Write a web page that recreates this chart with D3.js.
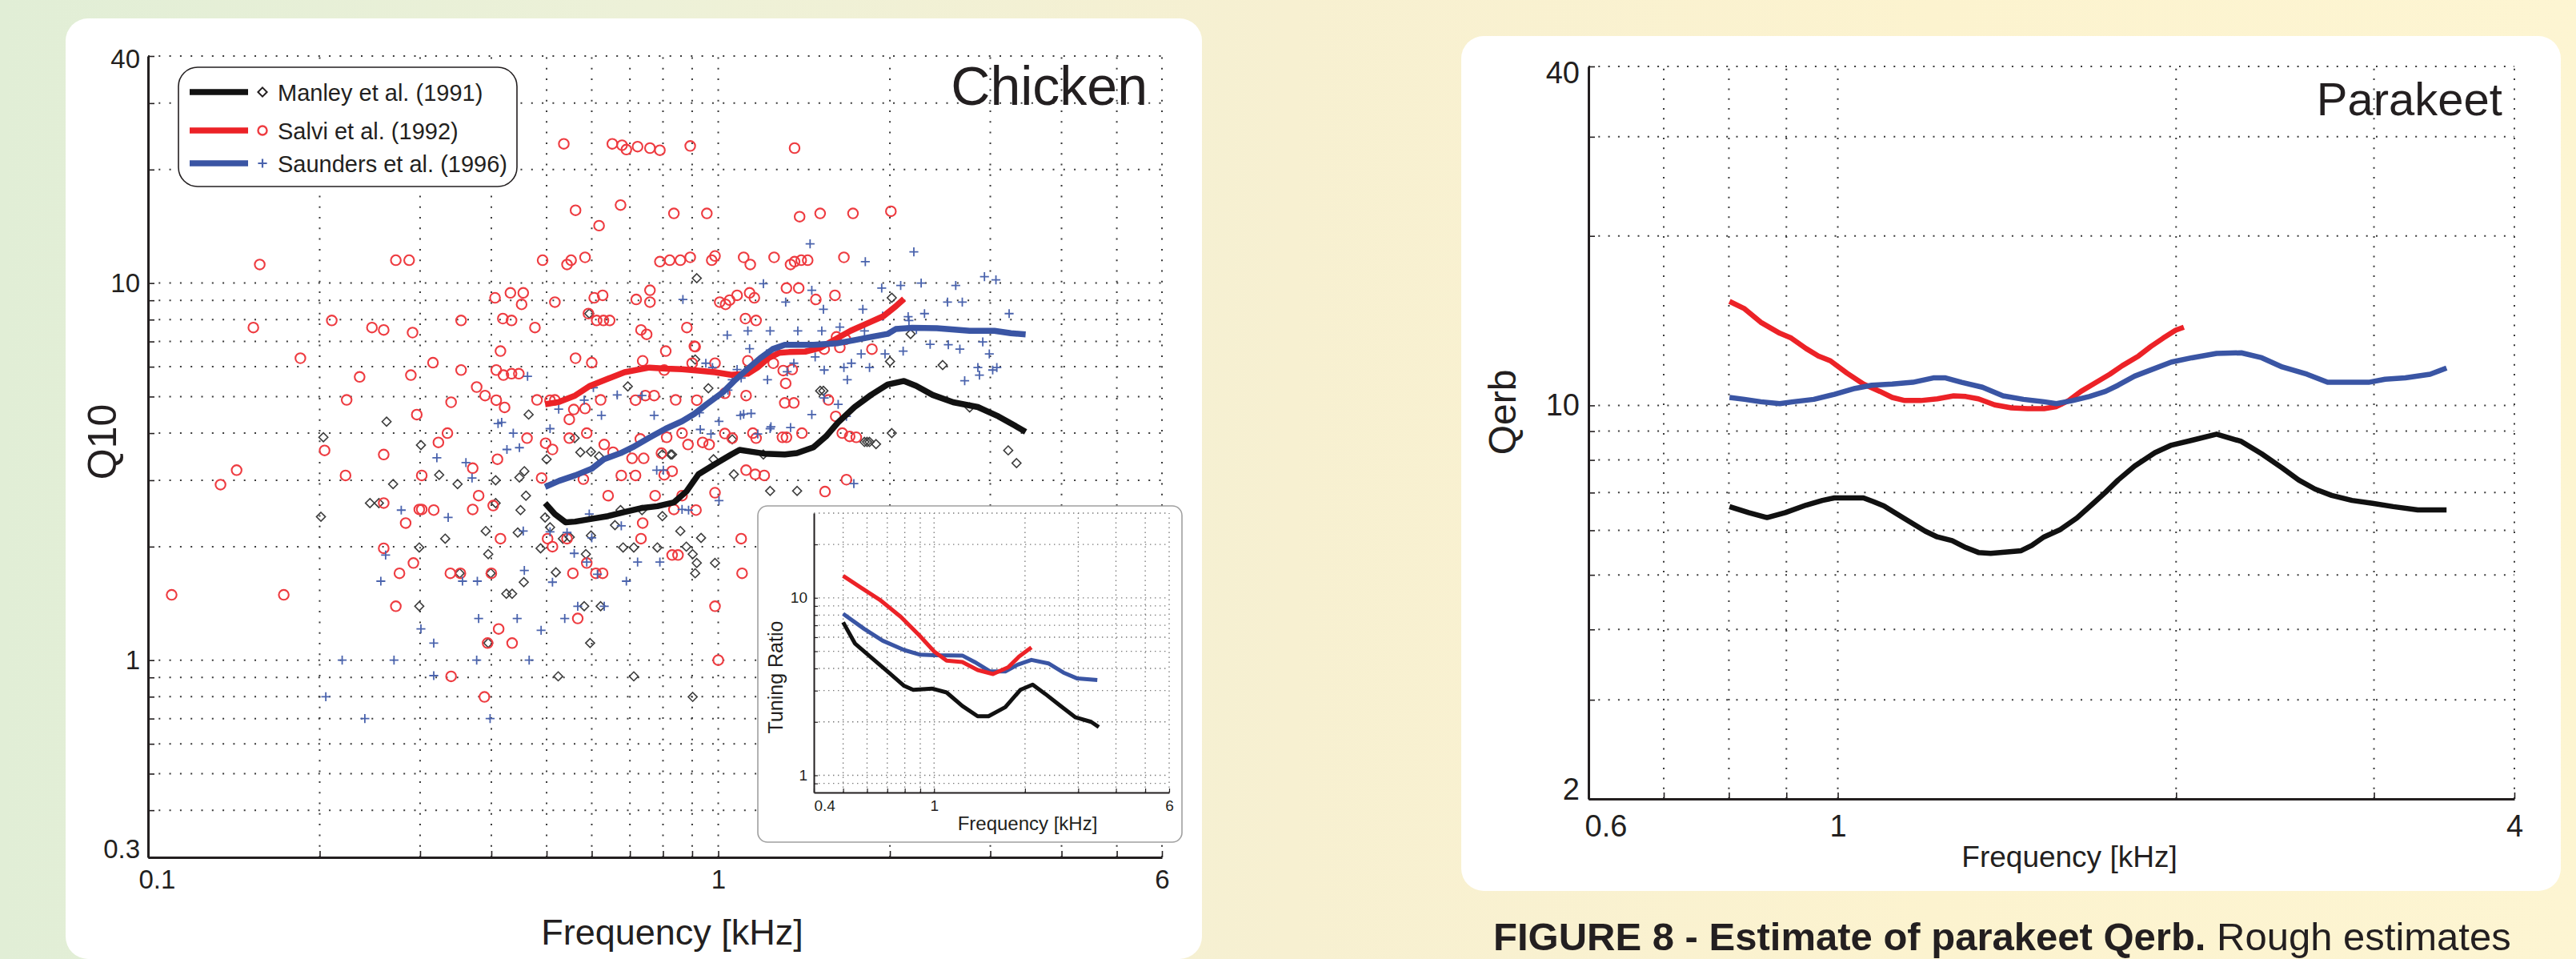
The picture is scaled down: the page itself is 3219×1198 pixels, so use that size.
<!DOCTYPE html>
<html>
<head>
<meta charset="utf-8">
<script src="https://cdn.jsdelivr.net/npm/d3@7"></script>
<style>
  html, body { margin: 0; padding: 0; }
  body { width: 3219px; height: 1198px; overflow: hidden; }
  svg { display: block; font-family: "Liberation Sans", Arial, sans-serif; }
</style>
</head>
<body>
<script>
const width = 3219;
const height = 1198;

// ---------- Chicken: smoothed Q10 curves [kHz, Q10]
const manleyQ10 = [[0.497,2.61],[0.517,2.44],[0.540,2.32],[0.561,2.33],[0.600,2.37],[0.641,2.41],[0.685,2.47],[0.732,2.53],[0.782,2.56],[0.836,2.62],[0.879,2.80],[0.923,3.11],[0.987,3.31],[1.054,3.51],[1.090,3.61],[1.146,3.57],[1.204,3.53],[1.308,3.51],[1.374,3.54],[1.469,3.67],[1.545,3.92],[1.622,4.27],[1.734,4.69],[1.853,5.05],[1.981,5.38],[2.117,5.50],[2.223,5.34],[2.377,5.05],[2.582,4.83],[2.853,4.69],[3.10,4.43],[3.31,4.19],[3.46,4.03]];
const salviQ10 = [[0.497,4.77],[0.526,4.84],[0.561,5.03],[0.596,5.34],[0.641,5.58],[0.685,5.80],[0.757,5.97],[0.809,5.93],[0.864,5.91],[0.923,5.86],[0.987,5.80],[1.054,5.71],[1.127,5.75],[1.172,5.97],[1.224,6.32],[1.278,6.53],[1.330,6.56],[1.421,6.58],[1.509,6.73],[1.596,7.06],[1.706,7.47],[1.823,7.81],[1.948,8.17],[2.047,8.67],[2.117,9.08]];
const saundersQ10 = [[0.497,2.88],[0.526,2.99],[0.561,3.09],[0.600,3.22],[0.630,3.41],[0.674,3.54],[0.708,3.67],[0.757,3.89],[0.809,4.11],[0.864,4.30],[0.908,4.50],[0.954,4.77],[1.020,5.14],[1.072,5.54],[1.127,5.93],[1.184,6.32],[1.245,6.68],[1.308,6.86],[1.469,6.86],[1.622,6.93],[1.734,7.06],[1.853,7.20],[1.981,7.33],[2.047,7.55],[2.188,7.61],[2.417,7.59],[2.76,7.47],[3.05,7.47],[3.26,7.36],[3.46,7.31]];

// ---------- Chicken: individual fibres [kHz, Q10]
const manleyPoints = [[0.917,10.3],[0.594,8.30],[2.015,9.14],[2.174,7.33],[2.475,6.06],[2.760,4.68],[3.225,3.60],[3.335,3.33],[2.001,6.20],[1.509,5.18],[2.015,4.00],[1.891,3.74],[1.805,3.79],[1.842,3.79],[1.233,2.81],[1.375,2.81],[0.961,5.26],[0.911,6.27],[0.694,5.32],[0.465,4.48],[0.262,4.29],[0.203,3.90],[0.301,3.72],[0.324,3.10],[0.349,2.93],[0.407,3.00],[0.448,3.05],[0.457,3.17],[0.500,3.41],[0.560,3.88],[0.573,3.56],[0.598,3.57],[0.618,3.47],[0.798,3.51],[0.825,3.51],[0.981,3.41],[1.058,3.85],[1.065,3.11],[1.200,3.51],[0.269,2.93],[0.245,2.61],[0.201,2.40],[0.254,2.61],[0.332,2.10],[0.299,1.99],[0.391,2.20],[0.395,1.91],[0.352,1.70],[0.399,1.70],[0.407,2.61],[0.460,2.73],[0.450,2.50],[0.497,2.39],[0.507,2.25],[0.534,2.10],[0.549,2.12],[0.598,2.14],[0.586,1.91],[0.659,2.28],[0.681,1.99],[0.711,1.99],[0.782,1.99],[0.798,2.41],[0.858,2.20],[0.933,2.11],[0.879,2.00],[0.902,1.91],[0.917,1.81],[0.987,1.81],[0.425,1.50],[0.435,1.50],[0.456,1.61],[0.299,1.39],[0.582,1.39],[0.622,1.39],[0.395,1.11],[0.596,1.11],[0.524,0.906],[0.711,0.906],[0.902,0.799],[0.674,2.50],[0.735,2.50],[0.830,3.51],[0.488,1.98],[0.519,1.71],[0.911,1.70],[0.445,2.18],[1.529,5.18],[1.824,3.79]];
const salviPoints = [[0.536,23.4],[0.652,23.4],[0.678,23.2],[0.690,22.6],[0.722,23.0],[0.759,22.8],[0.790,22.5],[0.893,23.1],[1.361,22.8],[0.562,15.6],[0.674,16.1],[0.618,14.2],[0.836,15.3],[0.955,15.3],[1.389,15.0],[1.509,15.3],[1.723,15.3],[2.008,15.5],[0.157,11.2],[0.272,11.5],[0.287,11.5],[0.492,11.5],[0.543,11.2],[0.552,11.5],[0.584,11.7],[0.790,11.4],[0.822,11.5],[0.858,11.5],[0.893,11.7],[0.974,11.5],[0.987,11.8],[1.108,11.7],[1.138,11.2],[1.253,11.7],[1.339,11.2],[1.361,11.4],[1.398,11.5],[1.435,11.5],[1.661,11.7],[0.406,9.14],[0.432,9.42],[0.455,9.42],[0.452,8.78],[0.517,8.90],[0.606,9.14],[0.627,9.28],[0.718,9.05],[0.759,9.57],[0.759,8.90],[1.006,8.90],[1.079,9.28],[1.135,9.42],[1.157,9.14],[1.317,9.70],[1.384,9.70],[1.483,9.05],[1.602,9.28],[0.210,7.96],[0.153,7.62],[0.247,7.62],[0.259,7.51],[0.291,7.39],[0.354,7.96],[0.419,8.05],[0.434,7.96],[0.477,7.62],[0.592,8.30],[0.612,7.96],[0.629,7.96],[0.645,7.96],[0.732,7.51],[0.749,7.31],[0.881,7.62],[0.911,6.78],[1.030,8.78],[1.047,9.01],[1.116,8.05],[1.165,7.96],[1.860,6.68],[1.672,7.09],[1.612,7.20],[0.185,6.32],[0.316,6.15],[0.354,5.88],[0.415,6.60],[0.408,5.88],[0.420,5.70],[0.434,5.75],[0.447,5.75],[0.235,5.64],[0.289,5.70],[0.562,6.32],[0.600,6.15],[0.809,6.60],[0.737,6.22],[0.804,5.88],[0.908,6.80],[0.900,6.13],[0.987,6.13],[1.127,6.22],[1.249,6.13],[1.300,5.86],[1.348,5.90],[1.534,6.68],[1.634,6.75],[0.223,4.90],[0.296,4.48],[0.340,4.83],[0.390,5.03],[0.377,5.30],[0.408,4.89],[0.422,4.68],[0.481,4.90],[0.507,4.89],[0.517,4.90],[0.558,4.62],[0.584,4.65],[0.622,4.90],[0.716,4.89],[0.745,5.03],[0.772,5.03],[0.842,4.90],[0.917,4.89],[1.027,5.10],[1.119,5.03],[1.313,5.42],[1.308,4.81],[1.357,4.81],[1.560,4.90],[1.607,4.43],[0.204,3.60],[0.259,3.51],[0.335,4.00],[0.323,3.78],[0.302,3.09],[0.299,2.51],[0.371,3.23],[0.410,3.41],[0.462,3.88],[0.498,3.76],[0.512,3.62],[0.548,3.88],[0.548,4.35],[0.588,4.00],[0.631,3.73],[0.654,3.56],[0.706,3.43],[0.730,3.86],[0.740,3.43],[0.795,3.54],[0.812,3.90],[0.830,3.17],[0.864,4.00],[0.885,3.73],[0.939,3.78],[0.964,3.73],[1.027,3.99],[1.058,3.88],[1.150,4.00],[1.165,3.88],[1.296,3.90],[1.317,3.90],[1.402,4.00],[1.650,4.00],[1.700,3.92],[1.746,3.90],[0.143,3.19],[0.134,2.92],[0.222,3.09],[0.259,2.61],[0.283,2.31],[0.302,2.51],[0.317,2.50],[0.371,2.51],[0.380,2.73],[0.403,2.57],[0.490,3.04],[0.580,3.02],[0.641,2.73],[0.676,3.09],[0.716,3.09],[0.775,2.73],[0.804,3.10],[0.836,2.51],[0.864,2.73],[0.914,2.50],[0.987,2.78],[1.119,3.19],[1.161,3.11],[1.204,3.09],[1.539,2.80],[1.678,3.01],[0.259,1.98],[0.276,1.70],[0.292,1.81],[0.339,1.70],[0.353,1.70],[0.400,1.70],[0.415,2.10],[0.502,2.10],[0.512,2.00],[0.543,2.10],[0.556,1.70],[0.588,1.81],[0.610,1.70],[0.627,1.70],[0.732,2.10],[0.737,2.31],[0.830,1.90],[0.850,1.90],[1.097,2.10],[1.101,1.70],[0.110,1.49],[0.173,1.49],[0.272,1.39],[0.412,1.21],[0.394,1.11],[0.435,1.11],[0.567,1.29],[0.987,1.39],[1.000,1.00],[0.340,0.906],[0.389,0.799]];
const saundersPoints = [[1.449,12.7],[2.203,12.1],[1.811,11.4],[1.200,9.96],[1.935,9.70],[2.089,9.85],[2.269,10.0],[2.609,9.85],[2.930,10.4],[3.069,10.2],[2.524,8.90],[2.679,8.90],[3.237,8.30],[0.867,9.05],[1.313,8.90],[1.459,9.57],[1.529,8.52],[1.793,8.52],[1.942,8.17],[2.153,8.14],[2.300,8.30],[1.037,7.28],[1.127,7.47],[1.233,7.47],[1.135,6.70],[1.379,7.47],[1.519,7.47],[1.634,7.64],[1.805,7.47],[2.110,6.60],[2.353,6.88],[2.532,6.86],[2.653,6.68],[2.910,6.98],[2.988,6.49],[3.080,5.97],[3.029,5.88],[2.871,5.70],[2.705,5.51],[2.853,5.97],[1.534,5.88],[1.684,5.54],[1.661,5.97],[1.842,5.97],[1.712,6.13],[1.781,6.49],[1.961,6.49],[1.357,6.13],[1.479,6.37],[1.215,6.49],[1.321,5.82],[1.220,5.54],[1.079,5.90],[1.097,5.60],[1.058,5.54],[0.951,6.13],[0.977,5.97],[1.040,5.20],[1.142,4.51],[1.237,4.16],[1.173,3.98],[1.094,4.46],[1.003,4.30],[0.927,4.53],[0.772,4.46],[0.735,5.03],[0.665,5.05],[0.604,5.28],[0.582,4.89],[0.624,4.46],[0.525,4.63],[0.507,4.11],[0.463,5.66],[0.437,4.00],[0.411,4.24],[0.448,3.66],[0.426,3.62],[0.417,4.27],[0.361,3.34],[0.321,3.44],[0.370,3.04],[0.336,2.39],[0.278,2.50],[0.261,1.90],[0.256,1.62],[0.301,1.21],[0.317,1.11],[0.317,0.91],[0.219,1.00],[0.270,1.00],[0.377,1.00],[0.466,1.00],[0.205,0.80],[0.240,0.70],[0.398,0.70],[0.444,1.29],[0.489,1.20],[0.538,1.29],[0.567,1.39],[0.631,1.39],[0.380,1.29],[0.378,1.62],[0.356,1.62],[0.457,1.73],[0.455,2.20],[0.507,2.19],[0.512,1.61],[0.559,1.92],[0.588,1.82],[0.614,1.69],[0.690,1.62],[0.543,2.18],[0.594,2.44],[0.600,2.11],[0.676,2.27],[0.722,1.82],[0.790,1.82],[0.864,2.51],[0.887,2.50],[1.003,2.65],[0.780,3.19],[0.801,3.19],[0.930,4.09],[0.971,3.98],[1.108,4.49],[1.233,4.11],[1.339,4.14],[1.459,4.48],[1.678,4.43],[1.729,2.94],[1.534,4.96],[1.623,4.77],[2.160,7.96],[2.226,7.53]];

// ---------- Chicken inset: tuning ratio [kHz, ratio]
const manleyRatio = [[0.50,7.28],[0.547,5.53],[0.615,4.66],[0.708,3.79],[0.796,3.19],[0.853,3.03],[0.984,3.08],[1.10,2.93],[1.24,2.46],[1.394,2.15],[1.514,2.15],[1.721,2.42],[1.93,3.03],[2.12,3.24],[2.33,2.88],[2.62,2.46],[2.94,2.12],[3.31,2.00],[3.51,1.87]];
const salviRatio = [[0.50,13.3],[0.573,11.4],[0.660,9.77],[0.777,7.80],[0.894,6.14],[1.00,4.99],[1.10,4.43],[1.24,4.35],[1.394,3.92],[1.567,3.72],[1.76,4.06],[1.91,4.66],[2.10,5.25]];
const saundersRatio = [[0.50,8.13],[0.587,6.68],[0.676,5.73],[0.796,5.08],[0.894,4.79],[1.00,4.75],[1.24,4.73],[1.362,4.35],[1.531,3.85],[1.721,3.85],[1.89,4.20],[2.10,4.47],[2.39,4.27],[2.68,3.79],[2.98,3.51],[3.47,3.44]];

// ---------- Parakeet: Qerb [kHz, Qerb]
const manleyQerb = [[0.801,6.61],[0.833,6.45],[0.865,6.32],[0.898,6.45],[0.937,6.65],[0.969,6.78],[0.993,6.85],[1.054,6.85],[1.075,6.75],[1.099,6.63],[1.147,6.29],[1.196,5.98],[1.226,5.84],[1.264,5.75],[1.300,5.59],[1.334,5.48],[1.368,5.46],[1.415,5.49],[1.456,5.52],[1.488,5.64],[1.526,5.84],[1.578,6.02],[1.632,6.31],[1.688,6.70],[1.731,7.01],[1.776,7.37],[1.837,7.80],[1.915,8.24],[1.981,8.50],[2.066,8.67],[2.173,8.89],[2.286,8.63],[2.384,8.20],[2.486,7.74],[2.571,7.37],[2.659,7.10],[2.751,6.92],[2.868,6.78],[2.991,6.70],[3.121,6.61],[3.282,6.52],[3.481,6.52]];
const salviQerb = [[0.801,15.30],[0.826,14.85],[0.854,14.05],[0.888,13.43],[0.909,13.17],[0.937,12.62],[0.961,12.24],[0.985,12.00],[1.019,11.41],[1.054,10.91],[1.090,10.59],[1.118,10.33],[1.147,10.20],[1.185,10.20],[1.226,10.27],[1.268,10.40],[1.300,10.37],[1.334,10.27],[1.379,10.02],[1.427,9.90],[1.475,9.87],[1.526,9.87],[1.565,9.95],[1.605,10.20],[1.646,10.59],[1.688,10.91],[1.746,11.36],[1.791,11.76],[1.852,12.24],[1.899,12.72],[1.948,13.17],[1.998,13.60],[2.032,13.77]];
const saundersQerb = [[0.801,10.33],[0.826,10.25],[0.854,10.15],[0.888,10.07],[0.913,10.15],[0.952,10.25],[0.993,10.46],[1.036,10.72],[1.072,10.86],[1.118,10.91],[1.166,10.99],[1.216,11.19],[1.247,11.19],[1.289,10.99],[1.345,10.77],[1.403,10.40],[1.463,10.25],[1.526,10.15],[1.565,10.07],[1.618,10.20],[1.674,10.37],[1.731,10.59],[1.776,10.86],[1.837,11.27],[1.899,11.56],[1.981,11.94],[2.066,12.15],[2.173,12.37],[2.286,12.40],[2.384,12.15],[2.486,11.70],[2.615,11.36],[2.728,10.99],[2.844,10.99],[2.967,10.99],[3.069,11.13],[3.199,11.19],[3.366,11.36],[3.481,11.65]];

// ---------- labels / ticks
const legendLabels = ["Manley et al. (1991)", "Salvi et al. (1992)", "Saunders et al. (1996)"];
const seriesColors = ["#111111", "#ec2227", "#3a55a4"];

const chickenFreqLabels = [0.1, 1, 6];
const chickenFreqGrid = [0.2, 0.3, 0.4, 0.5, 0.6, 0.7, 0.8, 0.9, 1, 2, 3, 4, 5];
const chickenQLabels = [0.3, 1, 10, 40];
const chickenQGrid = [0.4, 0.5, 0.6, 0.7, 0.8, 0.9, 1, 2, 3, 4, 5, 6, 7, 8, 9, 10, 20, 30];

const insetFreqLabels = [0.4, 1, 6];
const insetFreqGrid = [0.5, 0.6, 0.7, 0.8, 0.9, 1, 2, 3, 4, 5];
const insetRatioLabels = [1, 10];
const insetRatioGrid = [0.9, 1, 2, 3, 4, 5, 6, 7, 8, 9, 10, 20];

const parakeetFreqLabels = [0.6, 1, 4];
const parakeetFreqGrid = [0.7, 0.8, 0.9, 1, 2, 3];
const parakeetQLabels = [2, 10, 40];
const parakeetQGrid = [3, 4, 5, 6, 7, 8, 9, 10, 20, 30];

const ink = "#231f20";

const svg = d3.select("body").append("svg")
    .attr("width", width)
    .attr("height", height);

// background
const defs = svg.append("defs");
const bg = defs.append("linearGradient").attr("id", "bg").attr("x1", "0").attr("x2", "1").attr("y1", "0").attr("y2", "0");
bg.append("stop").attr("offset", "0%").attr("stop-color", "#e1eed6");
bg.append("stop").attr("offset", "25%").attr("stop-color", "#edf1d8");
bg.append("stop").attr("offset", "50%").attr("stop-color", "#f7f0d1");
bg.append("stop").attr("offset", "75%").attr("stop-color", "#fcf3cf");
bg.append("stop").attr("offset", "100%").attr("stop-color", "#fdf5d2");
svg.append("rect").attr("width", width).attr("height", height).attr("fill", "url(#bg)");

// white panels
svg.append("rect").attr("x", 82).attr("y", 23).attr("width", 1420).attr("height", 1175)
    .attr("rx", 28).attr("fill", "#ffffff");
svg.append("rect").attr("x", 1826).attr("y", 45).attr("width", 1374).attr("height", 1068)
    .attr("rx", 28).attr("fill", "#ffffff");

function uniq(a) { return Array.from(new Set(a)).sort((p, q) => p - q); }

// dotted grid
function drawGrid(g, x, y, xGrid, yGrid, st) {
    const [yb, yt] = y.range();
    const [xl, xr] = x.range();
    const grid = g.append("g")
        .attr("stroke", st.color)
        .attr("stroke-width", st.width)
        .attr("stroke-dasharray", st.dash)
        .attr("fill", "none");
    grid.selectAll(".gx").data(xGrid).join("line")
        .attr("class", "gx")
        .attr("x1", d => x(d)).attr("x2", d => x(d))
        .attr("y1", yb).attr("y2", yt);
    grid.selectAll(".gy").data(yGrid).join("line")
        .attr("class", "gy")
        .attr("y1", d => y(d)).attr("y2", d => y(d))
        .attr("x1", xl).attr("x2", xr);
}

// left + bottom axes, ticks inward, only some values labelled
function drawAxes(g, x, y, cfg) {
    const fmt = d3.format("~g");
    const [yb] = y.range();
    const [xl] = x.range();

    const xAxis = d3.axisBottom(x)
        .tickValues(uniq([...cfg.xGrid, ...cfg.xLabels]))
        .tickSizeInner(-cfg.tickLen).tickSizeOuter(0)
        .tickPadding(cfg.xPad)
        .tickFormat(d => cfg.xLabels.includes(d) ? fmt(d) : "");
    const gx = g.append("g").attr("transform", `translate(0,${yb})`).call(xAxis);

    const yAxis = d3.axisLeft(y)
        .tickValues(uniq([...cfg.yGrid, ...cfg.yLabels]))
        .tickSizeInner(-cfg.tickLen).tickSizeOuter(0)
        .tickPadding(cfg.yPad)
        .tickFormat(d => cfg.yLabels.includes(d) ? fmt(d) : "");
    const gy = g.append("g").attr("transform", `translate(${xl},0)`).call(yAxis);

    [gx, gy].forEach(a => {
        a.attr("font-family", null).attr("font-size", cfg.fontSize);
        a.select(".domain").attr("stroke", ink).attr("stroke-width", cfg.axisWidth);
        a.selectAll(".tick line").attr("stroke", ink).attr("stroke-width", cfg.tickWidth);
        a.selectAll(".tick text").attr("fill", ink);
    });

    gx.selectAll(".tick text").filter(d => d === x.domain()[0])
        .attr("text-anchor", "start").attr("dx", cfg.firstDx);
    gy.selectAll(".tick text").filter(d => d === y.domain()[0]).attr("dy", "0em");
    gy.selectAll(".tick text").filter(d => d === y.domain()[1]).attr("dy", cfg.topDy);
}

function drawCurve(g, x, y, data, color, w) {
    g.append("path")
        .datum(data)
        .attr("fill", "none")
        .attr("stroke", color)
        .attr("stroke-width", w)
        .attr("stroke-linejoin", "round")
        .attr("stroke-linecap", "butt")
        .attr("d", d3.line().x(d => x(d[0])).y(d => y(d[1])));
}

const diamondPath = s => `M0,${-s}L${s},0L0,${s}L${-s},0Z`;
const plusPath = s => `M${-s},0H${s}M0,${-s}V${s}`;

// =================== CHICKEN ===================
const cx = d3.scaleLog().domain([0.1, 6]).range([185, 1452]);
const cy = d3.scaleLog().domain([0.3, 40]).range([1071, 70]);
const chick = svg.append("g");

drawGrid(chick, cx, cy, chickenFreqGrid.concat([6]), chickenQGrid.concat([40]),
    { color: "#3a3a3a", width: 2, dash: "2,11.3" });

// scatter
chick.append("g").selectAll("path").data(manleyPoints).join("path")
    .attr("transform", d => `translate(${cx(d[0])},${cy(d[1])})`)
    .attr("d", diamondPath(5.6))
    .attr("fill", "none").attr("stroke", "#3d3d3d").attr("stroke-width", 1.6);
chick.append("g").selectAll("circle").data(salviPoints).join("circle")
    .attr("cx", d => cx(d[0])).attr("cy", d => cy(d[1])).attr("r", 6.2)
    .attr("fill", "none").attr("stroke", "#ee3b40").attr("stroke-width", 2.1);
chick.append("g").selectAll("path").data(saundersPoints).join("path")
    .attr("transform", d => `translate(${cx(d[0])},${cy(d[1])})`)
    .attr("d", plusPath(5.6))
    .attr("fill", "none").attr("stroke", "#4a63ad").attr("stroke-width", 1.8);

drawCurve(chick, cx, cy, salviQ10, seriesColors[1], 7.5);
drawCurve(chick, cx, cy, saundersQ10, seriesColors[2], 7.5);
drawCurve(chick, cx, cy, manleyQ10, seriesColors[0], 7.5);

drawAxes(chick, cx, cy, {
    xGrid: chickenFreqGrid, xLabels: chickenFreqLabels,
    yGrid: chickenQGrid, yLabels: chickenQLabels,
    tickLen: 8, xPad: 16, yPad: 10, fontSize: 33,
    axisWidth: 3, tickWidth: 1.6, firstDx: "-12", topDy: "0.45em"
});

chick.append("text").attr("x", 840).attr("y", 1180).attr("text-anchor", "middle")
    .attr("font-size", 45).attr("fill", ink).text("Frequency [kHz]");
chick.append("text").attr("transform", "translate(145,552) rotate(-90)").attr("text-anchor", "middle")
    .attr("font-size", 50).attr("fill", ink).text("Q10");
chick.append("text").attr("x", 1434).attr("y", 131).attr("text-anchor", "end")
    .attr("font-size", 68).attr("fill", ink).text("Chicken");

// legend
const legend = chick.append("g");
legend.append("rect").attr("x", 223).attr("y", 84).attr("width", 423).attr("height", 149)
    .attr("rx", 24).attr("fill", "#ffffff").attr("stroke", ink).attr("stroke-width", 1.6);
const legendRows = [115, 163, 204];
legendLabels.forEach((lab, i) => {
    const yy = legendRows[i];
    legend.append("line").attr("x1", 237).attr("x2", 310).attr("y1", yy).attr("y2", yy)
        .attr("stroke", seriesColors[i]).attr("stroke-width", 7.5);
    if (i === 0) {
        legend.append("path").attr("transform", `translate(328,${yy})`).attr("d", diamondPath(5.6))
            .attr("fill", "none").attr("stroke", ink).attr("stroke-width", 2);
    } else if (i === 1) {
        legend.append("circle").attr("cx", 328).attr("cy", yy).attr("r", 5.5)
            .attr("fill", "none").attr("stroke", "#ee3b40").attr("stroke-width", 2.4);
    } else {
        legend.append("path").attr("transform", `translate(328,${yy})`).attr("d", plusPath(5.6))
            .attr("fill", "none").attr("stroke", "#4a63ad").attr("stroke-width", 2.2);
    }
    legend.append("text").attr("x", 347).attr("y", yy + 11)
        .attr("font-size", 29).attr("fill", ink).text(lab);
});

// inset
const inset = chick.append("g");
inset.append("rect").attr("x", 947).attr("y", 632).attr("width", 530).attr("height", 420)
    .attr("rx", 12).attr("fill", "#ffffff").attr("stroke", "#a0a0a0").attr("stroke-width", 1.6);
const ix = d3.scaleLog().domain([0.4, 6]).range([1017, 1461]);
const iy = d3.scaleLog().domain([0.8, 30]).range([990, 641]);
drawGrid(inset, ix, iy, insetFreqGrid.concat([6]), insetRatioGrid.concat([30]),
    { color: "#777777", width: 1.3, dash: "1.4,4.6" });
drawCurve(inset, ix, iy, manleyRatio, seriesColors[0], 5);
drawCurve(inset, ix, iy, saundersRatio, seriesColors[2], 5);
drawCurve(inset, ix, iy, salviRatio, seriesColors[1], 5);
drawAxes(inset, ix, iy, {
    xGrid: insetFreqGrid, xLabels: insetFreqLabels,
    yGrid: insetRatioGrid, yLabels: insetRatioLabels,
    tickLen: 5, xPad: 10, yPad: 8, fontSize: 19,
    axisWidth: 2, tickWidth: 1.2, firstDx: "0", topDy: "0.32em"
});
inset.append("text").attr("x", 1284).attr("y", 1037).attr("text-anchor", "middle")
    .attr("font-size", 24).attr("fill", ink).text("Frequency [kHz]");
inset.append("text").attr("transform", "translate(978,846) rotate(-90)").attr("text-anchor", "middle")
    .attr("font-size", 25).attr("fill", ink).text("Tuning Ratio");

// =================== PARAKEET ===================
const px = d3.scaleLog().domain([0.6, 4]).range([1985, 3142]);
const py = d3.scaleLog().domain([2, 40]).range([998, 83]);
const para = svg.append("g");

drawGrid(para, px, py, parakeetFreqGrid.concat([4]), parakeetQGrid.concat([40]),
    { color: "#3a3a3a", width: 2, dash: "2,10.3" });
drawCurve(para, px, py, manleyQerb, seriesColors[0], 6.5);
drawCurve(para, px, py, salviQerb, seriesColors[1], 6.5);
drawCurve(para, px, py, saundersQerb, seriesColors[2], 6.5);
drawAxes(para, px, py, {
    xGrid: parakeetFreqGrid, xLabels: parakeetFreqLabels,
    yGrid: parakeetQGrid, yLabels: parakeetQLabels,
    tickLen: 8, xPad: 20, yPad: 11, fontSize: 38,
    axisWidth: 3, tickWidth: 1.6, firstDx: "-5", topDy: "0.55em"
});
para.append("text").attr("x", 2586).attr("y", 1083).attr("text-anchor", "middle")
    .attr("font-size", 37).attr("fill", ink).text("Frequency [kHz]");
para.append("text").attr("transform", "translate(1894,515) rotate(-90)").attr("text-anchor", "middle")
    .attr("font-size", 48).attr("fill", ink).text("Qerb");
para.append("text").attr("x", 3127).attr("y", 144).attr("text-anchor", "end")
    .attr("font-size", 58).attr("fill", ink).text("Parakeet");

// caption at the foot of the page
const caption = svg.append("text").attr("x", 1866).attr("y", 1187)
    .attr("font-size", 49).attr("fill", ink);
caption.append("tspan").attr("font-weight", "bold").text("FIGURE 8 - Estimate of parakeet Qerb.");
caption.append("tspan").text(" Rough estimates");
</script>
</body>
</html>
